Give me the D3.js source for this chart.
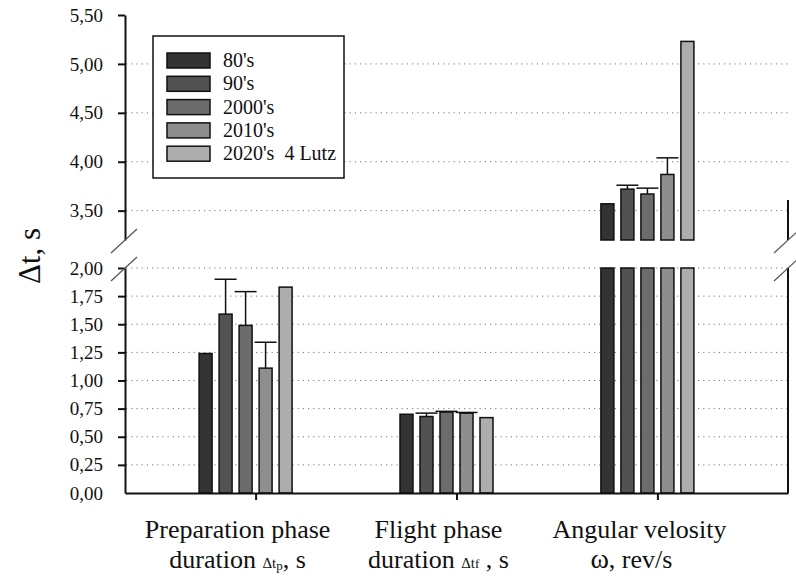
<!DOCTYPE html>
<html>
<head>
<meta charset="utf-8">
<script src="https://cdn.jsdelivr.net/npm/d3@7"></script>
<style>
  body { margin: 0; background: #fff; }
  svg text { font-family: "Liberation Serif", "DejaVu Serif", "Times New Roman", Times, serif !important; fill: #111; }
</style>
</head>
<body>
<div id="chart"></div>
<script>
// data
const categories = ["prep", "flight", "angular"];
const decades = ["80's", "90's", "2000's", "2010's", "2020's  4 Lutz"];
const values80 = [1.24, 0.70, 3.57];
const values90 = [1.59, 0.68, 3.72];
const values2000 = [1.49, 0.72, 3.67];
const values2010 = [1.11, 0.71, 3.87];
const values2020 = [1.83, 0.67, 5.23];
const errors80 = [0, 0, 0];
const errors90 = [0.31, 0.03, 0.04];
const errors2000 = [0.30, 0.006, 0.06];
const errors2010 = [0.23, 0.006, 0.17];
const errors2020 = [0, 0, 0];
const lowerTicks = [0.25, 0.5, 0.75, 1.0, 1.25, 1.5, 1.75, 2.0];
const upperTicks = [3.5, 4.0, 4.5, 5.0, 5.5];
const colors = ["#333333", "#525252", "#6c6c6c", "#8e8e8e", "#adadad"];

const seriesValues = [values80, values90, values2000, values2010, values2020];
const seriesErrors = [errors80, errors90, errors2000, errors2010, errors2020];

// flatten into one row per bar
const bars = [];
decades.forEach(function(d, i) {
  categories.forEach(function(c, j) {
    bars.push({decade: d, idx: i, cat: c, value: seriesValues[i][j], err: seriesErrors[i][j]});
  });
});

const width = 796, height = 581;
const left = 125, right = 788;
const serif = "'Liberation Serif', 'DejaVu Serif', 'Times New Roman', serif";

const svg = d3.select("#chart")
  .append("svg")
  .attr("width", width)
  .attr("height", height)
  .attr("font-family", serif);

// scales
const x = d3.scalePoint()
  .domain(categories)
  .range([left, right])
  .padding(0.65);

const xInner = d3.scaleBand()
  .domain(decades)
  .range([-60, 40])
  .paddingInner(0.35)
  .paddingOuter(0.175);

const yLow = d3.scaleLinear().domain([0, 2]).range([493, 268]);
const yUp = d3.scaleLinear().domain([3.2, 5.5]).range([240, 15]);

const locale = d3.formatLocale({decimal: ",", thousands: ".", grouping: [3], currency: ["", ""]});
const fmt = locale.format(".2f");

const color = d3.scaleOrdinal().domain(decades).range(colors);

// gridlines (dotted)
svg.append("g")
  .selectAll("line")
  .data(lowerTicks)
  .join("line")
  .attr("x1", left + 1).attr("x2", right)
  .attr("y1", d => yLow(d)).attr("y2", d => yLow(d))
  .attr("stroke", "#777").attr("stroke-width", 1)
  .attr("stroke-dasharray", "1.2,4");

svg.append("g")
  .selectAll("line")
  .data(upperTicks.filter(d => d < 5.5))
  .join("line")
  .attr("x1", left + 1).attr("x2", right)
  .attr("y1", d => yUp(d)).attr("y2", d => yUp(d))
  .attr("stroke", "#777").attr("stroke-width", 1)
  .attr("stroke-dasharray", "1.2,4");

// bars: lower panel (clipped at the break)
const barG = svg.append("g");
barG.selectAll("rect.low")
  .data(bars)
  .join("rect")
  .attr("class", "low")
  .attr("x", d => x(d.cat) + xInner(d.decade))
  .attr("width", xInner.bandwidth())
  .attr("y", d => yLow(Math.min(d.value, 2)))
  .attr("height", d => yLow(0) - yLow(Math.min(d.value, 2)))
  .attr("fill", d => color(d.decade))
  .attr("stroke", "#111")
  .attr("stroke-width", 1.5);

// bars: upper panel
barG.selectAll("rect.up")
  .data(bars.filter(d => d.value > 3.2))
  .join("rect")
  .attr("class", "up")
  .attr("x", d => x(d.cat) + xInner(d.decade))
  .attr("width", xInner.bandwidth())
  .attr("y", d => yUp(d.value))
  .attr("height", d => yUp(3.2) - yUp(d.value))
  .attr("fill", d => color(d.decade))
  .attr("stroke", "#111")
  .attr("stroke-width", 1.5);

// error bars (upward only)
const errG = svg.append("g").attr("stroke", "#111").attr("stroke-width", 1.5);
bars.filter(d => d.err > 0).forEach(function(d) {
  const y = d.value > 3.2 ? yUp : yLow;
  const cx = x(d.cat) + xInner(d.decade) + xInner.bandwidth() / 2;
  errG.append("line")
    .attr("x1", cx).attr("x2", cx)
    .attr("y1", y(d.value)).attr("y2", y(d.value + d.err));
  errG.append("line")
    .attr("x1", cx - 11).attr("x2", cx + 11)
    .attr("y1", y(d.value + d.err)).attr("y2", y(d.value + d.err));
});

// y axes
const axisLow = svg.append("g")
  .attr("transform", `translate(${left},0)`)
  .call(d3.axisLeft(yLow).tickValues([0].concat(lowerTicks)).tickFormat(fmt).tickSize(7).tickPadding(15).tickSizeOuter(0));
const axisUp = svg.append("g")
  .attr("transform", `translate(${left},0)`)
  .call(d3.axisLeft(yUp).tickValues(upperTicks).tickFormat(fmt).tickSize(7).tickPadding(15).tickSizeOuter(0));
[axisLow, axisUp].forEach(function(a) {
  a.attr("font-family", serif).attr("font-size", 19);
  a.select(".domain").attr("stroke", "#111").attr("stroke-width", 2);
  a.selectAll(".tick line").attr("stroke", "#111").attr("stroke-width", 2);
  a.selectAll(".tick text").attr("fill", "#111");
});
axisLow.select(".tick line").remove();

// right frame pieces
svg.append("line").attr("x1", right).attr("x2", right).attr("y1", yLow(0)).attr("y2", yLow(2))
  .attr("stroke", "#111").attr("stroke-width", 2);
svg.append("line").attr("x1", right).attr("x2", right).attr("y1", yUp(3.2)).attr("y2", 200)
  .attr("stroke", "#111").attr("stroke-width", 2);

// x axis
const xAxis = svg.append("g")
  .attr("transform", `translate(0,${yLow(0)})`)
  .call(d3.axisBottom(x).tickSize(7).tickFormat("").tickSizeOuter(0));
xAxis.select(".domain").attr("stroke", "#111").attr("stroke-width", 2);
xAxis.selectAll(".tick line").attr("stroke", "#111").attr("stroke-width", 2);

// axis break marks
const breakG = svg.append("g").attr("stroke", "#555").attr("stroke-width", 1.2);
[left, right].forEach(function(bx) {
  [yUp(3.2), yLow(2)].forEach(function(by) {
    breakG.append("line")
      .attr("x1", bx - 14).attr("y1", by + 13)
      .attr("x2", bx + 12).attr("y2", by - 11);
  });
});

// y axis title
svg.append("text")
  .attr("transform", "translate(40,256) rotate(-90)")
  .attr("text-anchor", "middle")
  .attr("font-size", 31)
  .text("Δt, s");

// x category labels
const labelX = d3.scaleOrdinal().domain(categories).range(categories.map(c => x(c) - 18));
svg.append("text").attr("text-anchor", "middle").attr("font-size", 26)
  .attr("x", labelX("prep")).attr("y", 538).text("Preparation phase");
const lbl1b = svg.append("text").attr("text-anchor", "middle").attr("font-size", 26)
  .attr("x", labelX("prep")).attr("y", 568);
lbl1b.append("tspan").text("duration ");
lbl1b.append("tspan").attr("font-size", 15).text("Δt");
lbl1b.append("tspan").attr("font-size", 13).attr("dy", 2).text("p");
lbl1b.append("tspan").attr("dy", -2).text(", s");

svg.append("text").attr("text-anchor", "middle").attr("font-size", 26)
  .attr("x", labelX("flight")).attr("y", 538).text("Flight phase");
const lbl2b = svg.append("text").attr("text-anchor", "middle").attr("font-size", 26)
  .attr("x", labelX("flight")).attr("y", 568);
lbl2b.append("tspan").text("duration  ");
lbl2b.append("tspan").attr("font-size", 15).text("Δt");
lbl2b.append("tspan").attr("font-size", 13).text("f");
lbl2b.append("tspan").text(" , s");

svg.append("text").attr("text-anchor", "middle").attr("font-size", 26)
  .attr("x", labelX("angular")).attr("y", 538).text("Angular velosity");
const lbl3b = svg.append("text").attr("text-anchor", "middle").attr("font-size", 26)
  .attr("x", labelX("angular") - 8).attr("y", 568);
lbl3b.append("tspan").attr("font-size", 28).text("ω");
lbl3b.append("tspan").text(", rev/s");

// legend
const legend = svg.append("g");
legend.append("rect")
  .attr("x", 153).attr("y", 36)
  .attr("width", 191).attr("height", 142)
  .attr("fill", "#fff").attr("stroke", "#111").attr("stroke-width", 1.5);
const rowStep = 23.3;
legend.selectAll("rect.sw")
  .data(decades)
  .join("rect")
  .attr("class", "sw")
  .attr("x", 167).attr("y", (d, i) => 53 + i * rowStep)
  .attr("width", 43).attr("height", 15)
  .attr("fill", d => color(d))
  .attr("stroke", "#111").attr("stroke-width", 1.5);
legend.selectAll("text")
  .data(decades)
  .join("text")
  .attr("x", 223).attr("y", (d, i) => 67 + i * rowStep)
  .attr("font-size", 20)
  .style("white-space", "pre")
  .text(d => d);
</script>
</body>
</html>
